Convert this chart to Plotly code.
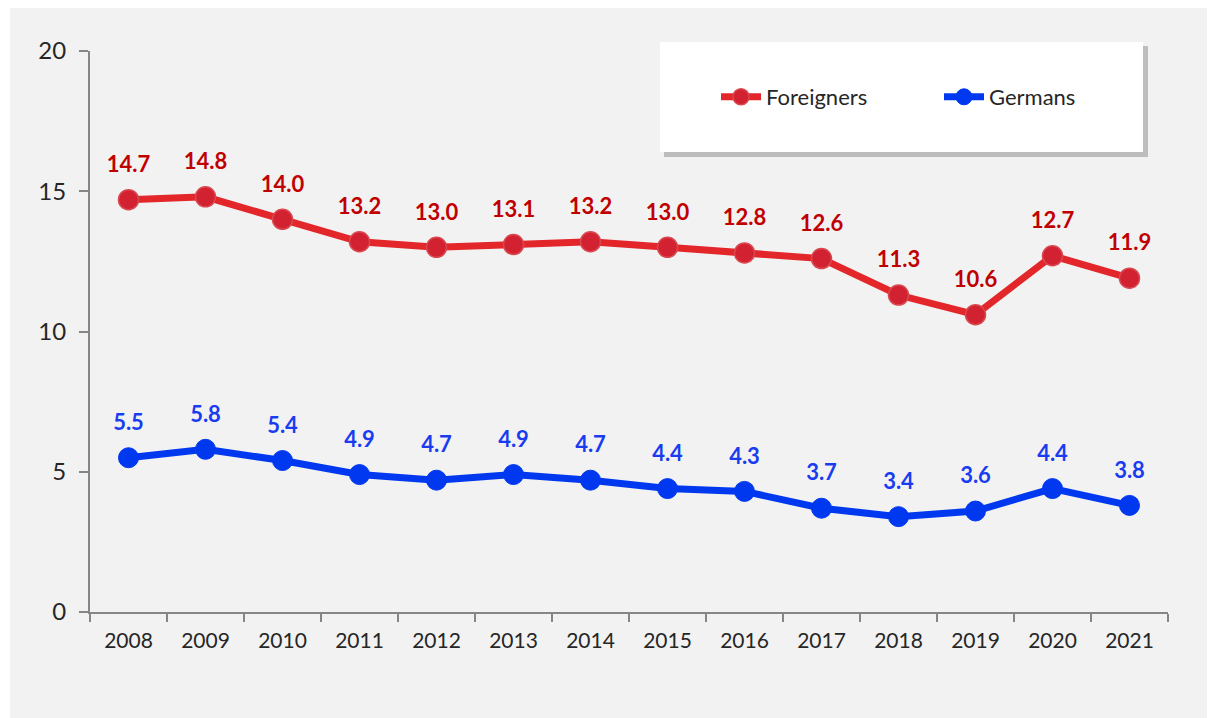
import plotly.graph_objects as go

years = ["2008", "2009", "2010", "2011", "2012", "2013", "2014",
         "2015", "2016", "2017", "2018", "2019", "2020", "2021"]
foreigners = [14.7, 14.8, 14.0, 13.2, 13.0, 13.1, 13.2, 13.0, 12.8, 12.6, 11.3, 10.6, 12.7, 11.9]
germans = [5.5, 5.8, 5.4, 4.9, 4.7, 4.9, 4.7, 4.4, 4.3, 3.7, 3.4, 3.6, 4.4, 3.8]
y_ticks = [0, 5, 10, 15, 20]

FONT = "Lato"
RED_LINE = "#e3262a"
RED_MARK = "#d22232"
RED_TEXT = "#c00000"
BLUE = "#0038f0"
BLUE_TEXT = "#1a3cf0"
AXIS = "#868686"

OFF = 8
W, H = 1207, 710
PX0, PX1, PY0, PY1 = 90, 1168, 51, 612
L = PX0 - OFF
R = W - (PX1 - OFF)
T = PY0 - OFF
B = H - (PY1 - OFF)
pw, ph = PX1 - PX0, PY1 - PY0

def px(x):
    return (x - PX0) / pw

def py(y):
    return (PY1 - y) / ph

fig = go.Figure()
fig.add_trace(go.Scatter(
    x=years, y=foreigners, name="Foreigners", mode="lines+markers",
    line=dict(color=RED_LINE, width=7),
    marker=dict(size=20, color=RED_MARK, line=dict(color="#d9474f", width=1.5)),
    hoverinfo="x+y",
))
fig.add_trace(go.Scatter(
    x=years, y=germans, name="Germans", mode="lines+markers",
    line=dict(color=BLUE, width=7),
    marker=dict(size=20, color=BLUE, line=dict(color=BLUE, width=1)),
    hoverinfo="x+y",
))

# data labels as text traces
for vals, col in ((foreigners, RED_TEXT), (germans, BLUE_TEXT)):
    fig.add_trace(go.Scatter(
        x=years, y=vals, mode="markers+text",
        text=[f"<b>{v:.1f}</b>" for v in vals], textposition="top center",
        textfont=dict(family=FONT, size=22, color=col),
        marker=dict(size=34, opacity=0),
        showlegend=False, hoverinfo="skip",
    ))

shapes = [
    dict(type="rect", xref="paper", yref="paper", layer="below",
         x0=px(10), x1=px(1230), y0=py(730), y1=py(7),
         fillcolor="#f2f2f2", line=dict(width=0)),
    dict(type="rect", xref="paper", yref="paper", layer="below",
         x0=px(664), x1=px(1148), y0=py(157), y1=py(46),
         fillcolor="rgba(0,0,0,0.22)", line=dict(width=0)),
    dict(type="rect", xref="paper", yref="paper", layer="below",
         x0=px(660), x1=px(1143), y0=py(152), y1=py(42),
         fillcolor="white", line=dict(width=0)),
]

fig.update_layout(
    width=W, height=H,
    autosize=False,
    margin=dict(l=L, r=R, t=T, b=B, autoexpand=False),
    paper_bgcolor="white",
    plot_bgcolor="rgba(0,0,0,0)",
    font=dict(family=FONT, color="#262626"),
    showlegend=True,
    legend=dict(orientation="h", x=px(716), y=py(97), xanchor="left", yanchor="middle",
                bgcolor="rgba(0,0,0,0)", font=dict(family=FONT, size=22, color="#262626"),
                itemwidth=40, entrywidth=168, entrywidthmode="pixels"),
    shapes=shapes,
    xaxis=dict(
        type="category", range=[-0.5, 13.5], showgrid=False,
        showline=True, linecolor=AXIS, linewidth=2,
        ticks="outside", tickson="boundaries", ticklen=8, tickcolor=AXIS, tickwidth=2,
        tickfont=dict(family=FONT, size=21, color="#262626"),
        ticklabelstandoff=9,
    ),
    yaxis=dict(
        range=[0, 20], tickvals=y_ticks, showgrid=False, zeroline=False,
        showline=True, linecolor=AXIS, linewidth=2,
        ticks="outside", ticklen=9, tickcolor=AXIS, tickwidth=2,
        tickfont=dict(family=FONT, size=24, color="#262626"),
        ticklabelstandoff=8,
    ),
)

fig.write_html("out.html")
